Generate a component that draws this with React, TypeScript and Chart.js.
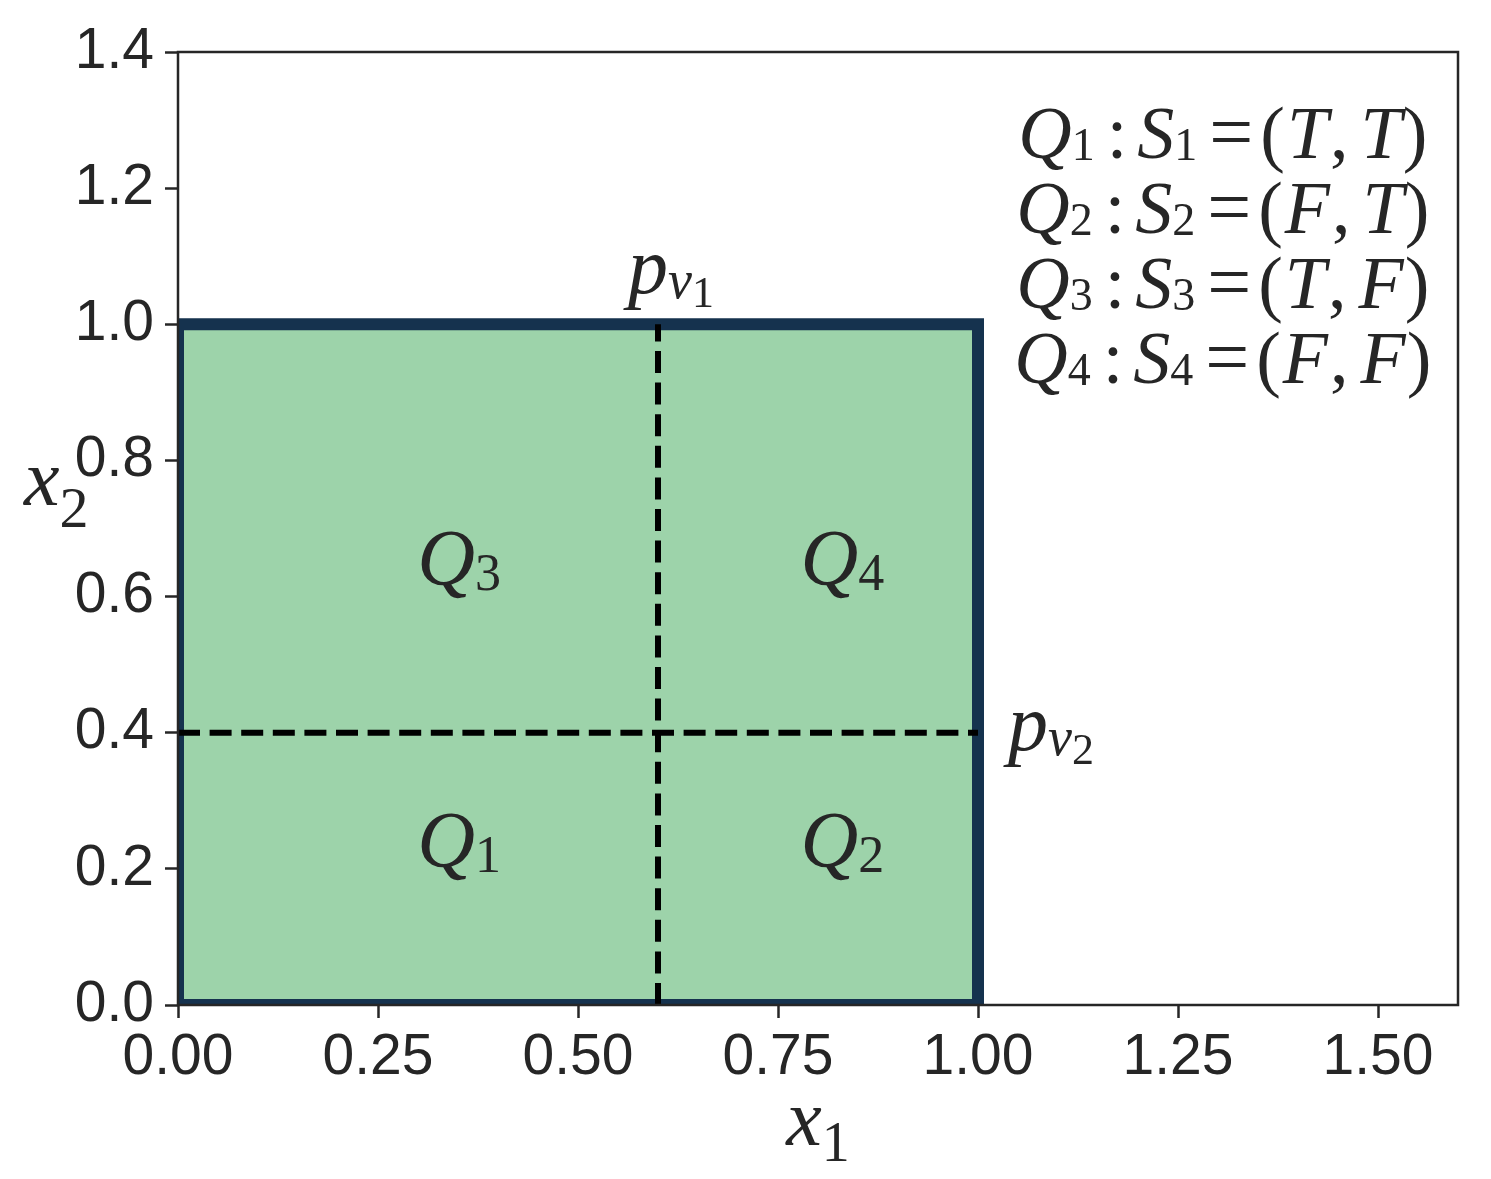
import React, { useEffect, useRef } from "react";
import { Chart, registerables } from "chart.js";

Chart.register(...registerables);

// ---- data ----
const regionX = [0, 0, 1, 1, 0];
const regionY = [0, 1, 1, 0, 0];
const regionTopX = [0, 1];
const regionTopY = [1, 1];
const splitV1 = 0.6; // p_{v1} on x1
const splitV2 = 0.4; // p_{v2} on x2
const xTicks = [0, 0.25, 0.5, 0.75, 1.0, 1.25, 1.5];
const yTicks = [0, 0.2, 0.4, 0.6, 0.8, 1.0, 1.2, 1.4];
const xRange = [0, 1.6];
const yRange = [0, 1.4];
const quadrantIds = ["1", "2", "3", "4"];
const quadrantX = [0.299, 0.778, 0.299, 0.778];
const quadrantY = [0.203, 0.203, 0.617, 0.617];
const quadrantFirst = ["T", "F", "T", "F"];
const quadrantSecond = ["T", "T", "F", "F"];
const legendX = 1.306;
const legendY = [1.244, 1.134, 1.024, 0.914];
const pv1Pos = [0.5625, 1.046];
const pv2Pos = [1.0375, 0.3746];

const TEXT = "#262626";
const FILL = "#9dd3aa";
const EDGE = "#15324e";

type Run = { t: string; it?: boolean; sz: number; dy?: number; dx?: number };

function runFont(r: Run) {
  return `${r.it ? "italic " : ""}${r.sz}px 'Liberation Serif', 'DejaVu Serif', serif`;
}

function drawRuns(ctx: CanvasRenderingContext2D, runs: Run[], x: number, y: number, align: "left" | "center") {
  ctx.save();
  ctx.textBaseline = "alphabetic";
  ctx.textAlign = "left";
  ctx.fillStyle = TEXT;
  let total = 0;
  const widths = runs.map((r) => {
    ctx.font = runFont(r);
    const w = ctx.measureText(r.t).width + (r.dx || 0);
    total += w;
    return w;
  });
  let cx = align === "center" ? x - total / 2 : x;
  runs.forEach((r, i) => {
    ctx.font = runFont(r);
    ctx.fillText(r.t, cx + (r.dx || 0), y + (r.dy || 0));
    cx += widths[i];
  });
  ctx.restore();
}

const overlayPlugin = {
  id: "overlay",
  afterDatasetsDraw(chart: any) {
    const { ctx, chartArea } = chart;
    ctx.save();
    ctx.strokeStyle = TEXT;
    ctx.lineWidth = 2.5;
    ctx.strokeRect(chartArea.left, chartArea.top, chartArea.right - chartArea.left, chartArea.bottom - chartArea.top);
    ctx.restore();
  },
  afterDraw(chart: any) {
    const { ctx, chartArea } = chart;
    const xs = chart.scales.x;
    const ys = chart.scales.y;
    quadrantIds.forEach((id, i) => {
      drawRuns(
        ctx,
        [
          { t: "Q", it: true, sz: 80 },
          { t: id, sz: 52, dy: 5 },
        ],
        xs.getPixelForValue(quadrantX[i]),
        ys.getPixelForValue(quadrantY[i]),
        "left"
      );
    });
    quadrantIds.forEach((id, i) => {
      drawRuns(
        ctx,
        [
          { t: "Q", it: true, sz: 74 },
          { t: id, sz: 46, dy: 2 },
          { t: ":", sz: 74, dx: 12 },
          { t: "S", it: true, sz: 74, dx: 10 },
          { t: id, sz: 46, dy: 2 },
          { t: "=", sz: 78, dx: 12 },
          { t: "(", sz: 74, dx: 7 },
          { t: quadrantFirst[i], it: true, sz: 74, dx: 2 },
          { t: ",", sz: 74, dx: 2 },
          { t: quadrantSecond[i], it: true, sz: 74, dx: 12 },
          { t: ")", sz: 74, dx: 1 },
        ],
        xs.getPixelForValue(legendX),
        ys.getPixelForValue(legendY[i]),
        "center"
      );
    });
    const pv = (d: string): Run[] => [
      { t: "p", it: true, sz: 80 },
      { t: "v", it: true, sz: 54, dy: 5 },
      { t: d, sz: 44, dy: 14 },
    ];
    drawRuns(ctx, pv("1"), xs.getPixelForValue(pv1Pos[0]), ys.getPixelForValue(pv1Pos[1]), "left");
    drawRuns(ctx, pv("2"), xs.getPixelForValue(pv2Pos[0]), ys.getPixelForValue(pv2Pos[1]), "left");
    const cxp = (chartArea.left + chartArea.right) / 2;
    drawRuns(
      ctx,
      [
        { t: "x", it: true, sz: 80 },
        { t: "1", sz: 56, dy: 16 },
      ],
      cxp,
      chartArea.bottom + 140,
      "center"
    );
    drawRuns(
      ctx,
      [
        { t: "x", it: true, sz: 80 },
        { t: "2", sz: 58, dy: 22 },
      ],
      24,
      505,
      "left"
    );
  },
};

export default function App() {
  const ref = useRef<HTMLCanvasElement | null>(null);
  useEffect(() => {
    document.body.style.margin = "0";
    const canvas = ref.current;
    if (!canvas) return;
    const tickFont = { family: "'Liberation Sans', Arial, sans-serif", size: 57 };
    const chart = new Chart(canvas, {
      type: "line",
      data: {
        datasets: [
          {
            data: regionTopX.map((x, i) => ({ x, y: regionTopY[i] })),
            fill: "origin",
            backgroundColor: FILL,
            borderColor: "rgba(0,0,0,0)",
            borderWidth: 0,
            pointRadius: 0,
            tension: 0,
            order: 3,
          } as any,
          {
            data: regionX.map((x, i) => ({ x, y: regionY[i] })),
            fill: false,
            borderColor: EDGE,
            borderWidth: 12,
            borderJoinStyle: "miter",
            pointRadius: 0,
            tension: 0,
            clip: 0,
            order: 2,
          } as any,
          {
            data: [
              { x: splitV1, y: 0 },
              { x: splitV1, y: 1 },
            ],
            fill: false,
            borderColor: "#000000",
            borderWidth: 6,
            borderDash: [22, 9.6],
            pointRadius: 0,
            clip: 0,
            order: 1,
          } as any,
          {
            data: [
              { x: 0, y: splitV2 },
              { x: 1, y: splitV2 },
            ],
            fill: false,
            borderColor: "#000000",
            borderWidth: 6,
            borderDash: [22, 9.6],
            pointRadius: 0,
            clip: 0,
            order: 1,
          } as any,
        ],
      },
      options: {
        animation: false,
        responsive: true,
        maintainAspectRatio: false,
        devicePixelRatio: 1,
        events: [],
        layout: { padding: { top: 52, right: 33, left: 0, bottom: 0 } },
        plugins: { legend: { display: false }, tooltip: { enabled: false } },
        scales: {
          x: {
            type: "linear",
            min: xRange[0],
            max: xRange[1],
            afterBuildTicks: (s: any) => {
              s.ticks = xTicks.map((v) => ({ value: v }));
            },
            afterFit: (s: any) => {
              s.height = 174;
            },
            grid: { display: true, drawOnChartArea: false, drawTicks: true, tickLength: 13, tickWidth: 2.5, tickColor: TEXT },
            border: { display: false },
            ticks: {
              font: tickFont,
              color: TEXT,
              padding: 6,
              autoSkip: false,
              maxRotation: 0,
              callback: (v: any) => Number(v).toFixed(2),
            },
          },
          y: {
            type: "linear",
            min: yRange[0],
            max: yRange[1],
            afterBuildTicks: (s: any) => {
              s.ticks = yTicks.map((v) => ({ value: v }));
            },
            afterFit: (s: any) => {
              s.width = 178;
            },
            grid: { display: true, drawOnChartArea: false, drawTicks: true, tickLength: 13, tickWidth: 2.5, tickColor: TEXT },
            border: { display: false },
            ticks: {
              font: tickFont,
              color: TEXT,
              padding: 11,
              autoSkip: false,
              callback: (v: any) => Number(v).toFixed(1),
            },
          },
        },
      } as any,
      plugins: [overlayPlugin],
    });
    return () => chart.destroy();
  }, []);
  return (
    <div style={{ position: "absolute", left: 0, top: 0, width: 1491, height: 1179, background: "#ffffff" }}>
      <canvas ref={ref} />
    </div>
  );
}
